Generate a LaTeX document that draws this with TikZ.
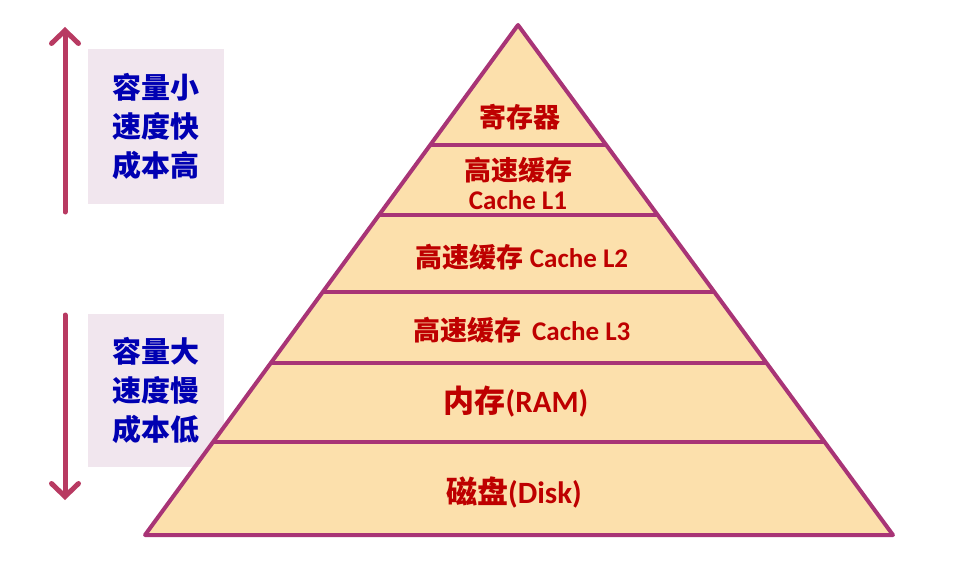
\documentclass[tikz,border=0pt]{standalone}
\usepackage{fontspec}
\setmainfont{Carlito}
\newfontfamily\cjk{Noto Sans CJK SC}
\usetikzlibrary{arrows.meta, calc}
\definecolor{pyrFill}{RGB}{252,224,172}
\definecolor{pyrLine}{RGB}{168,52,118}
\definecolor{arrRed}{RGB}{184,58,98}
\definecolor{boxGray}{RGB}{241,230,238}
\definecolor{txtBlue}{RGB}{0,0,178}
\definecolor{txtRed}{RGB}{190,0,0}

\begin{document}
\begin{tikzpicture}[
  x=1pt, y=-1pt,
  layer/.style={font=\fontsize{27}{31}\selectfont\bfseries, text=txtRed, align=center, inner sep=0pt},
  big/.style={layer, font=\fontsize{31}{36}\selectfont\bfseries},
  note/.style={fill=boxGray, minimum width=136pt, minimum height=155pt, inner sep=0pt,
    font=\fontsize{29}{39}\selectfont\cjk\bfseries, text=txtBlue, align=center},
  trend/.style={arrRed, line width=5pt, line cap=round,
    -{Straight Barb[length=13pt, width=27pt, line cap=round]}},
]
  \useasboundingbox (0,0) rectangle (955,583);

  % notes and trend arrows
  \node[note] (fast) at (156,126.5) {容量小\\速度快\\成本高};
  \node[note, minimum height=153pt] (slow) at (156,390.5) {容量大\\速度慢\\成本低};

  \coordinate (upS) at (65,212);
  \coordinate (upE) at (65,27);
  \coordinate (dnS) at (65,315);
  \coordinate (dnE) at (65,500);
  \draw[trend] (upS) -- (upE);
  \draw[trend] (dnS) -- (dnE);

  % pyramid
  \coordinate (apex) at (518,25);
  \coordinate (bl) at (145,535);
  \coordinate (br) at (893,535);
  \draw[pyrLine, fill=pyrFill, line width=4pt, line join=round] (apex) -- (bl) -- (br) -- cycle;
  \foreach \y in {145,215,292,363,442}
    \draw[pyrLine, line width=4pt]
      ($(apex)!{(\y-25)/510}!(bl)$) -- ($(apex)!{(\y-25)/510}!(br)$);

  \node[layer] (reg) at (520,117) {\cjk 寄存器};
  \node[layer] (l1) at (518,183) {\cjk 高速缓存\\[-2pt]Cache L1};
  \node[layer] (l2) at (522,257) {{\cjk 高速缓存} Cache L2};
  \node[layer] (l3) at (522,330) {{\cjk 高速缓存}\ \,Cache L3};
  \node[big] (ram) at (516,402) {{\cjk 内存}(RAM)};
  \node[big] (disk) at (514,492) {{\cjk 磁盘}(Disk)};
\end{tikzpicture}
\end{document}
